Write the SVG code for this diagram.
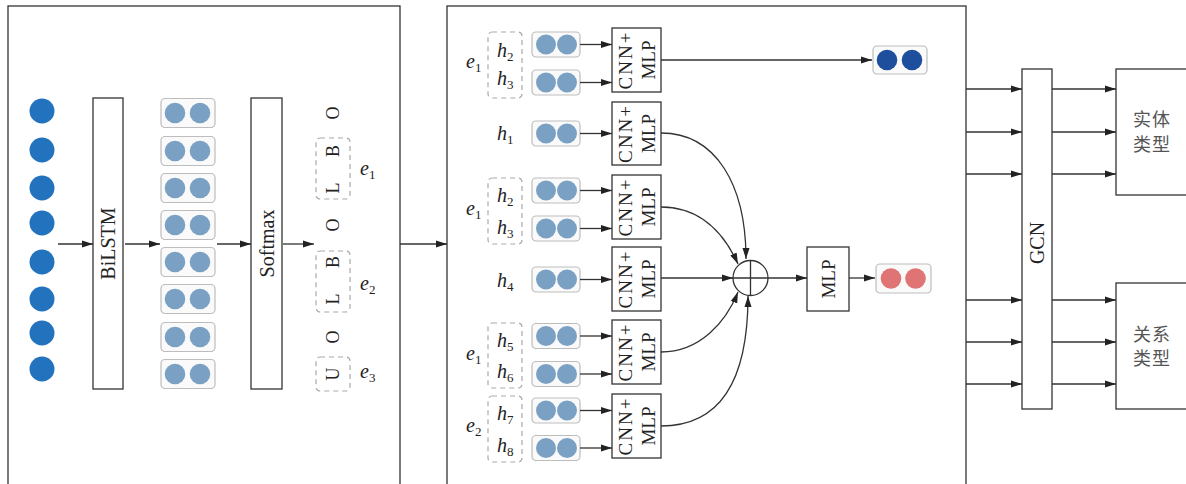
<svg xmlns="http://www.w3.org/2000/svg" width="1186" height="484" viewBox="0 0 1186 484">
  <style>
    .panel { fill: none; stroke: #333; stroke-width: 1.3; }
    .box { fill: #fff; stroke: #333; stroke-width: 1.3; }
    .dots { fill: #fafafa; stroke: #bdbdbd; stroke-width: 1.2; }
    .dash { fill: none; stroke: #aaa; stroke-width: 1.2; stroke-dasharray: 5 4; }
    .in { fill: #2272be; }
    .mid { fill: #7aa1c4; }
    .ent { fill: #1d4f9c; }
    .rel { fill: #e07373; }
    .edge { fill: none; stroke: #333; stroke-width: 1.3; marker-end: url(#arrow); }
    .t { font-family: "Liberation Serif", "Times New Roman", serif; fill: #222; }
    .lbl { font-size: 20px; text-anchor: middle; dominant-baseline: central; }
    .cnn { font-size: 19px; letter-spacing: 2px; }
    .mlp { font-size: 19px; }
    .tag { font-size: 18px; text-anchor: middle; dominant-baseline: central; }
    .var { font-size: 20px; font-style: italic; }
    .sub { font-size: 13px; font-style: normal; }
    .zh { font-family: "Noto Sans CJK SC", "Noto Sans", sans-serif; font-size: 18px; fill: #555; text-anchor: middle; letter-spacing: 1px; }
  </style>
  <defs>
    <marker id="arrow" markerUnits="userSpaceOnUse" markerWidth="12" markerHeight="8" refX="11" refY="4" orient="auto">
      <path d="M0,0.5 L11,4 L0,7.5 z" fill="#222"/>
    </marker>
    <!-- hidden-state pair, left column -->
    <g id="pairL">
      <rect class="dots" x="0" y="-14.5" width="54" height="29" rx="4"/>
      <circle class="mid" cx="14" cy="0" r="10.3"/>
      <circle class="mid" cx="39" cy="0" r="10.3"/>
    </g>
    <!-- hidden-state pair, span column -->
    <g id="pairM">
      <rect class="dots" x="0" y="-12.5" width="48" height="25" rx="4"/>
      <circle class="mid" cx="14" cy="0" r="10"/>
      <circle class="mid" cx="35" cy="0" r="10"/>
    </g>
  </defs>

  <!-- panels -->
  <g id="panel-tagging"><rect class="panel" x="8" y="6" width="392" height="500"/></g>
  <g id="panel-span"><rect class="panel" x="447" y="6" width="519" height="500"/></g>

  <!-- input tokens -->
  <g id="tokens">
    <circle class="in" cx="42" cy="111" r="12.5"/>
    <circle class="in" cx="42" cy="150" r="12.5"/>
    <circle class="in" cx="42" cy="188" r="12.5"/>
    <circle class="in" cx="42" cy="223" r="12.5"/>
    <circle class="in" cx="42" cy="262" r="12.5"/>
    <circle class="in" cx="42" cy="299" r="12.5"/>
    <circle class="in" cx="42" cy="333" r="12.5"/>
    <circle class="in" cx="42" cy="369" r="12.5"/>
  </g>

  <g id="bilstm">
    <rect class="box" x="93" y="98" width="30" height="291"/>
    <text class="t lbl" transform="translate(108,243.5) rotate(-90)">BiLSTM</text>
  </g>

  <g id="hidden">
    <use href="#pairL" x="161" y="113"/>
    <use href="#pairL" x="161" y="151"/>
    <use href="#pairL" x="161" y="188"/>
    <use href="#pairL" x="161" y="225"/>
    <use href="#pairL" x="161" y="262"/>
    <use href="#pairL" x="161" y="299"/>
    <use href="#pairL" x="161" y="337"/>
    <use href="#pairL" x="161" y="374"/>
  </g>

  <g id="softmax">
    <rect class="box" x="251" y="98" width="31" height="291"/>
    <text class="t lbl" transform="translate(266.5,243.5) rotate(-90)">Softmax</text>
  </g>

  <g id="tags">
    <rect class="dash" x="316" y="138" width="34" height="61" rx="4"/>
    <rect class="dash" x="316" y="251" width="34" height="61" rx="4"/>
    <rect class="dash" x="316" y="357" width="34" height="34" rx="4"/>
    <text class="t tag" transform="translate(333,113) rotate(-90)">O</text>
    <text class="t tag" transform="translate(333,151) rotate(-90)">B</text>
    <text class="t tag" transform="translate(333,188) rotate(-90)">L</text>
    <text class="t tag" transform="translate(333,225) rotate(-90)">O</text>
    <text class="t tag" transform="translate(333,262) rotate(-90)">B</text>
    <text class="t tag" transform="translate(333,299) rotate(-90)">L</text>
    <text class="t tag" transform="translate(333,337) rotate(-90)">O</text>
    <text class="t tag" transform="translate(333,374) rotate(-90)">U</text>
    <text class="t var" x="360" y="175">e<tspan class="sub" dy="4">1</tspan></text>
    <text class="t var" x="360" y="290">e<tspan class="sub" dy="4">2</tspan></text>
    <text class="t var" x="360" y="378">e<tspan class="sub" dy="4">3</tspan></text>
  </g>

  <!-- span groups -->
  <g id="span-e1-a">
    <rect class="dash" x="488" y="32" width="34" height="66" rx="4"/>
    <text class="t var" x="466" y="68">e<tspan class="sub" dy="4">1</tspan></text>
    <text class="t var" x="497" y="57">h<tspan class="sub" dy="4">2</tspan></text>
    <text class="t var" x="497" y="85">h<tspan class="sub" dy="4">3</tspan></text>
    <use href="#pairM" x="532" y="44.5"/>
    <use href="#pairM" x="532" y="82.5"/>
  </g>
  <g id="span-h1">
    <text class="t var" x="497" y="140">h<tspan class="sub" dy="4">1</tspan></text>
    <use href="#pairM" x="532" y="133.5"/>
  </g>
  <g id="span-e1-b">
    <rect class="dash" x="488" y="178" width="34" height="66" rx="4"/>
    <text class="t var" x="466" y="215">e<tspan class="sub" dy="4">1</tspan></text>
    <text class="t var" x="497" y="202">h<tspan class="sub" dy="4">2</tspan></text>
    <text class="t var" x="497" y="234">h<tspan class="sub" dy="4">3</tspan></text>
    <use href="#pairM" x="532" y="190.5"/>
    <use href="#pairM" x="532" y="228.5"/>
  </g>
  <g id="span-h4">
    <text class="t var" x="497" y="287">h<tspan class="sub" dy="4">4</tspan></text>
    <use href="#pairM" x="532" y="279.5"/>
  </g>
  <g id="span-e1-c">
    <rect class="dash" x="488" y="323" width="34" height="65" rx="4"/>
    <text class="t var" x="466" y="360">e<tspan class="sub" dy="4">1</tspan></text>
    <text class="t var" x="497" y="347">h<tspan class="sub" dy="4">5</tspan></text>
    <text class="t var" x="497" y="378">h<tspan class="sub" dy="4">6</tspan></text>
    <use href="#pairM" x="532" y="336"/>
    <use href="#pairM" x="532" y="374"/>
  </g>
  <g id="span-e2">
    <rect class="dash" x="488" y="396" width="34" height="66" rx="4"/>
    <text class="t var" x="466" y="432">e<tspan class="sub" dy="4">2</tspan></text>
    <text class="t var" x="497" y="420">h<tspan class="sub" dy="4">7</tspan></text>
    <text class="t var" x="497" y="452">h<tspan class="sub" dy="4">8</tspan></text>
    <use href="#pairM" x="532" y="410.5"/>
    <use href="#pairM" x="532" y="448"/>
  </g>

  <!-- CNN+MLP encoders -->
  <g id="enc-1">
    <rect class="box" x="612" y="28" width="49" height="64"/>
    <text class="t lbl cnn" transform="translate(625,60) rotate(-90)">CNN+</text>
    <text class="t lbl mlp" transform="translate(648,60) rotate(-90)">MLP</text>
  </g>
  <g id="enc-2">
    <rect class="box" x="612" y="102" width="49" height="63"/>
    <text class="t lbl cnn" transform="translate(625,133.5) rotate(-90)">CNN+</text>
    <text class="t lbl mlp" transform="translate(648,133.5) rotate(-90)">MLP</text>
  </g>
  <g id="enc-3">
    <rect class="box" x="612" y="175" width="49" height="64"/>
    <text class="t lbl cnn" transform="translate(625,207) rotate(-90)">CNN+</text>
    <text class="t lbl mlp" transform="translate(648,207) rotate(-90)">MLP</text>
  </g>
  <g id="enc-4">
    <rect class="box" x="612" y="247" width="49" height="64"/>
    <text class="t lbl cnn" transform="translate(625,279) rotate(-90)">CNN+</text>
    <text class="t lbl mlp" transform="translate(648,279) rotate(-90)">MLP</text>
  </g>
  <g id="enc-5">
    <rect class="box" x="612" y="320" width="49" height="64"/>
    <text class="t lbl cnn" transform="translate(625,352) rotate(-90)">CNN+</text>
    <text class="t lbl mlp" transform="translate(648,352) rotate(-90)">MLP</text>
  </g>
  <g id="enc-6">
    <rect class="box" x="612" y="394" width="49" height="64"/>
    <text class="t lbl cnn" transform="translate(625,426) rotate(-90)">CNN+</text>
    <text class="t lbl mlp" transform="translate(648,426) rotate(-90)">MLP</text>
  </g>

  <g id="entity-out">
    <rect class="dots" x="873" y="46" width="54" height="28" rx="4"/>
    <circle class="ent" cx="887" cy="60" r="10.3"/>
    <circle class="ent" cx="912" cy="60" r="10.3"/>
  </g>

  <g id="sum">
    <circle cx="750.5" cy="278" r="17.5" fill="#fff" stroke="#333" stroke-width="1.3"/>
    <path d="M733,278 H768 M750.5,260.5 V295.5" stroke="#333" stroke-width="1.3"/>
  </g>

  <g id="mlp">
    <rect class="box" x="807" y="247" width="42" height="64"/>
    <text class="t lbl mlp" transform="translate(828,279) rotate(-90)">MLP</text>
  </g>

  <g id="relation-out">
    <rect class="dots" x="876" y="264" width="55" height="29" rx="4"/>
    <circle class="rel" cx="891" cy="278.5" r="10.3"/>
    <circle class="rel" cx="915.5" cy="278.5" r="10.3"/>
  </g>

  <g id="gcn">
    <rect class="box" x="1022" y="69" width="30" height="340"/>
    <text class="t lbl" transform="translate(1037,243) rotate(-90)">GCN</text>
  </g>

  <g id="entity-type">
    <rect class="box" x="1116" y="69" width="80" height="126"/>
    <text class="zh" x="1152" y="126">实体</text>
    <text class="zh" x="1152" y="151">类型</text>
  </g>
  <g id="relation-type">
    <rect class="box" x="1116" y="283" width="80" height="126"/>
    <text class="zh" x="1152" y="341">关系</text>
    <text class="zh" x="1152" y="365">类型</text>
  </g>

  <!-- connectors -->
  <g id="connectors">
    <path class="edge" d="M58,244 H93"/>
    <path class="edge" d="M125,244 H160"/>
    <path class="edge" d="M217,244 H251"/>
    <path class="edge" d="M283,244 H314"/>
    <path class="edge" d="M400,244 H447"/>

    <path class="edge" d="M580,44.5 H612"/>
    <path class="edge" d="M580,82.5 H612"/>
    <path class="edge" d="M580,133.5 H612"/>
    <path class="edge" d="M580,190.5 H612"/>
    <path class="edge" d="M580,228.5 H612"/>
    <path class="edge" d="M580,279.5 H612"/>
    <path class="edge" d="M580,336 H612"/>
    <path class="edge" d="M580,374 H612"/>
    <path class="edge" d="M580,410.5 H612"/>
    <path class="edge" d="M580,448 H612"/>

    <path class="edge" d="M661,60 H872"/>
    <path class="edge" d="M661,133 C716,133 746,185 746,259"/>
    <path class="edge" d="M661,207 C700,207 724,233 738,264"/>
    <path class="edge" d="M661,278 H733"/>
    <path class="edge" d="M661,352 C700,352 726,322 738,292"/>
    <path class="edge" d="M661,426 C720,426 748,382 748,296"/>
    <path class="edge" d="M768,278 H807"/>
    <path class="edge" d="M849,278 H875"/>

    <path class="edge" d="M966,89 H1022"/>
    <path class="edge" d="M966,132 H1022"/>
    <path class="edge" d="M966,174 H1022"/>
    <path class="edge" d="M966,300 H1022"/>
    <path class="edge" d="M966,342 H1022"/>
    <path class="edge" d="M966,384 H1022"/>
    <path class="edge" d="M1052,89 H1116"/>
    <path class="edge" d="M1052,132 H1116"/>
    <path class="edge" d="M1052,174 H1116"/>
    <path class="edge" d="M1052,300 H1116"/>
    <path class="edge" d="M1052,342 H1116"/>
    <path class="edge" d="M1052,384 H1116"/>
  </g>
</svg>
